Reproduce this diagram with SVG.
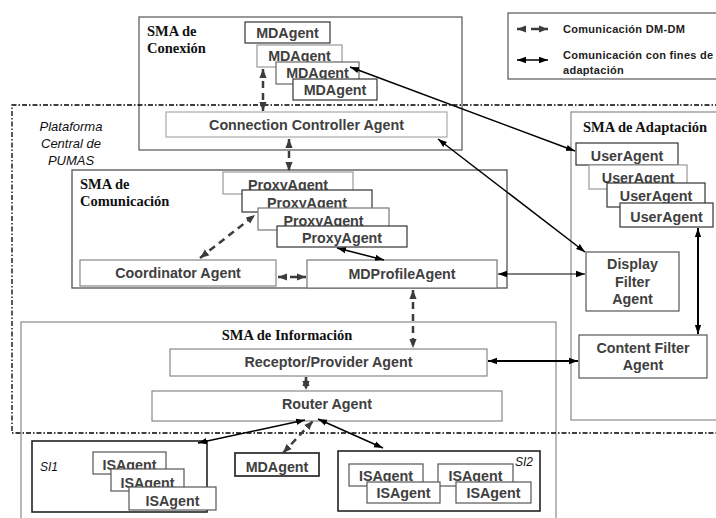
<svg xmlns="http://www.w3.org/2000/svg" width="716" height="518" viewBox="0 0 716 518">
<defs>
<marker id="a" viewBox="0 0 10 10" refX="10" refY="5" markerWidth="9" markerHeight="9" markerUnits="userSpaceOnUse" orient="auto-start-reverse"><path d="M0,1.5 L10,5 L0,8.5 z" fill="#000"/></marker>
<marker id="d" viewBox="0 0 10 10" refX="10" refY="5" markerWidth="9" markerHeight="9" markerUnits="userSpaceOnUse" orient="auto-start-reverse"><path d="M0,1 L10,5 L0,9 z" fill="#3c3c3c"/></marker>
<style>
.ct{fill:none;stroke:#555;stroke-width:1.2}
.ctl{fill:none;stroke:#8a8a8a;stroke-width:1.2}
.bx{fill:#fff;stroke:#333;stroke-width:1.2}
.bl{fill:#fff;stroke:#999;stroke-width:1.2}
.si{fill:none;stroke:#222;stroke-width:1.6}
.t{font-family:"Liberation Sans",Arial,sans-serif;font-weight:bold;font-size:14.3px;fill:#404040;text-anchor:middle}
.s{font-family:"Liberation Serif","Times New Roman",serif;font-weight:bold;font-size:14.5px;fill:#111}
.i{font-family:"Liberation Sans",Arial,sans-serif;font-style:italic;font-size:13px;fill:#111}
.lg{font-family:"Liberation Sans",Arial,sans-serif;font-weight:bold;font-size:11px;fill:#222;letter-spacing:0.3px}
.dl{fill:none;stroke:#3c3c3c;stroke-width:2.5;stroke-dasharray:7 5;marker-start:url(#d);marker-end:url(#d)}
.sl{fill:none;stroke:#000;stroke-width:1.5;marker-start:url(#a);marker-end:url(#a)}
.bd{fill:none;stroke:#000;stroke-width:1.3;stroke-dasharray:5 2 1.5 2}
</style>
</defs>
<rect width="716" height="518" fill="#fff"/>

<g id="legend">
<rect x="508" y="13" width="215" height="66" class="ct"/>
<path d="M517,29 H548" class="dl" style="stroke-dasharray:8 6"/>
<path d="M517,60 H548" class="sl"/>
<text x="563" y="33" class="lg">Comunicación DM-DM</text>
<text x="563" y="59" class="lg">Comunicación con fines de</text>
<text x="563" y="74" class="lg">adaptación</text>
</g>

<g id="sma-conexion">
<rect x="139" y="17" width="323" height="133" class="ct"/>
<text x="147" y="36" class="s">SMA de</text>
<text x="147" y="53" class="s">Conexión</text>
</g>
<g id="sma-comunicacion">
<rect x="72" y="170" width="435" height="118" class="ct" style="stroke:#444"/>
<text x="80" y="189" class="s">SMA de</text>
<text x="80" y="206" class="s">Comunicación</text>
</g>
<g id="sma-informacion">
<rect x="21" y="322" width="535" height="210" class="ctl"/>
<text x="287" y="340" class="s" text-anchor="middle">SMA de Información</text>
</g>
<g id="sma-adaptacion">
<rect x="571" y="112" width="160" height="308" class="ctl"/>
<text x="583" y="132" class="s">SMA de Adaptación</text>
</g>

<g id="plataforma">
<path d="M720,105 H12 V433 H720" class="bd"/>
<text x="71" y="131" class="i" text-anchor="middle">Plataforma</text>
<text x="71" y="148" class="i" text-anchor="middle">Central de</text>
<text x="71" y="165" class="i" text-anchor="middle">PUMAS</text>
</g>

<g id="mdagent-1"><rect x="245" y="22" width="85" height="21" class="bx"/><text x="287.5" y="38" class="t">MDAgent</text></g>
<g id="mdagent-2"><rect x="257" y="45" width="85" height="22" class="bl"/><text x="299.5" y="61" class="t">MDAgent</text></g>
<g id="mdagent-3"><rect x="276" y="62" width="83" height="22" class="bx" style="stroke:#666"/><text x="317.5" y="78" class="t">MDAgent</text></g>
<g id="mdagent-4"><rect x="293" y="79" width="84" height="21" class="bx"/><text x="335" y="95" class="t">MDAgent</text></g>

<g id="connection-controller"><rect x="166" y="112" width="281" height="25" class="bl" style="stroke:#aaa"/><text x="306.5" y="130" class="t">Connection Controller Agent</text></g>

<g id="proxyagent-1"><rect x="223" y="172" width="130" height="22" class="bl"/><text x="288" y="190" class="t">ProxyAgent</text></g>
<g id="proxyagent-2"><rect x="242" y="190" width="130" height="22" class="bx"/><text x="307" y="208" class="t">ProxyAgent</text></g>
<g id="proxyagent-3"><rect x="258" y="208" width="131" height="22" class="bx" style="stroke:#777"/><text x="323.5" y="226" class="t">ProxyAgent</text></g>
<g id="proxyagent-4"><rect x="277" y="226" width="130" height="21" class="bx"/><text x="342" y="243" class="t">ProxyAgent</text></g>

<g id="coordinator"><rect x="80" y="260" width="196" height="26" class="bl" style="stroke:#888"/><text x="178" y="278" class="t">Coordinator Agent</text></g>
<g id="mdprofile"><rect x="307" y="260" width="190" height="28" class="bl" style="stroke:#777"/><text x="402" y="279" class="t">MDProfileAgent</text></g>

<g id="useragent-1"><rect x="576" y="143" width="102" height="22" class="bx"/><text x="627" y="161" class="t">UserAgent</text></g>
<g id="useragent-2"><rect x="589" y="165" width="98" height="24" class="bl"/><text x="638" y="183" class="t">UserAgent</text></g>
<g id="useragent-3"><rect x="607" y="183" width="98" height="24" class="bx"/><text x="656" y="201" class="t">UserAgent</text></g>
<g id="useragent-4"><rect x="620" y="203" width="93" height="24" class="bx"/><text x="666.5" y="222" class="t">UserAgent</text></g>

<g id="display-filter"><rect x="586" y="252" width="93" height="59" class="bx" style="stroke:#555"/><text x="632.5" y="269" class="t">Display</text><text x="632.5" y="287" class="t">Filter</text><text x="632.5" y="304" class="t">Agent</text></g>
<g id="content-filter"><rect x="579" y="335" width="128" height="43" class="bx" style="stroke:#555"/><text x="643" y="353" class="t">Content Filter</text><text x="643" y="370" class="t">Agent</text></g>

<g id="receptor-provider"><rect x="170" y="349" width="317" height="27" class="bl" style="stroke:#888"/><text x="328.5" y="367" class="t">Receptor/Provider Agent</text></g>
<g id="router"><rect x="152" y="391" width="350" height="30" class="bl" style="stroke:#888"/><text x="327" y="409" class="t">Router Agent</text></g>

<g id="si1">
<rect x="32" y="441" width="175" height="71" class="si"/>
<text x="40" y="471" class="i" style="font-size:12px">SI1</text>
</g>
<g id="isagent-si1-1"><rect x="93" y="452" width="73" height="22" class="bx" style="stroke:#555"/><text x="129.5" y="470" class="t">ISAgent</text></g>
<g id="isagent-si1-2"><rect x="111" y="469" width="73" height="22" class="bx" style="stroke:#555"/><text x="147.5" y="488" class="t">ISAgent</text></g>
<g id="isagent-si1-3"><rect x="129" y="487" width="87" height="23" class="bx" style="stroke:#555"/><text x="172.5" y="506" class="t">ISAgent</text></g>

<g id="mdagent-bottom"><rect x="235" y="453" width="84" height="23" class="bx" style="stroke-width:1.8"/><text x="277" y="472" class="t">MDAgent</text></g>

<g id="si2">
<rect x="338" y="451" width="202" height="60" class="si"/>
<text x="515" y="466" class="i" style="font-size:12px">SI2</text>
</g>
<g id="isagent-si2-1"><rect x="349" y="464" width="74" height="22" class="bx" style="stroke:#555"/><text x="386" y="481" class="t">ISAgent</text></g>
<g id="isagent-si2-2"><rect x="438" y="464" width="75" height="22" class="bx" style="stroke:#555"/><text x="475.5" y="481" class="t">ISAgent</text></g>
<g id="isagent-si2-3"><rect x="367" y="482" width="73" height="21" class="bx" style="stroke:#555"/><text x="403.5" y="498" class="t">ISAgent</text></g>
<g id="isagent-si2-4"><rect x="456" y="482" width="75" height="21" class="bx" style="stroke:#555"/><text x="493.5" y="498" class="t">ISAgent</text></g>

<g id="connectors">
<path d="M263,69 V111" class="dl"/>
<path d="M289,139 V171" class="dl"/>
<path d="M200,258 L255,215" class="dl"/>
<path d="M278,277 H306" class="dl"/>
<path d="M413,290 V348" class="dl"/>
<path d="M306,377 V390" class="dl" style="stroke-dasharray:4 3"/>
<path d="M283,453 L313,421" class="dl"/>
<path d="M350,67 L575,151" class="sl"/>
<path d="M438,139 L585,252" class="sl"/>
<path d="M337,248 L384,260" class="sl"/>
<path d="M498,274 H585" class="sl" style="stroke-width:1"/>
<path d="M698,228 V334" class="sl" style="stroke-width:2"/>
<path d="M488,361 H578" class="sl" style="stroke-width:1.8"/>
<path d="M305,420 L198,443" class="sl"/>
<path d="M318,419 L383,448" class="sl"/>
</g>
</svg>
